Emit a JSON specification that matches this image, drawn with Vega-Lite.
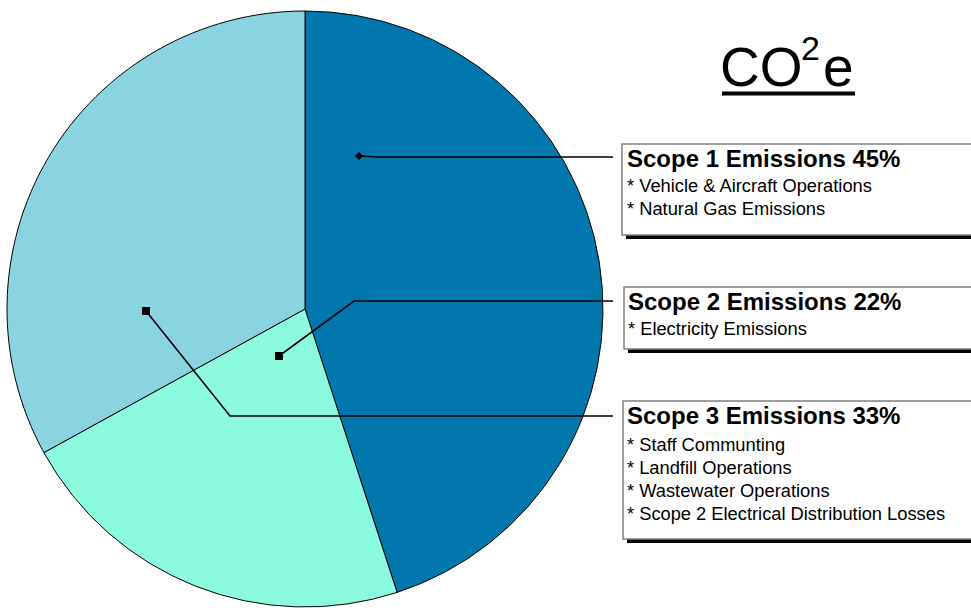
{
  "$schema": "https://vega.github.io/schema/vega-lite/v6.json",
  "width": 971,
  "height": 608,
  "padding": 0,
  "autosize": {"type": "none"},
  "background": "#ffffff",
  "config": {"view": {"stroke": null}, "text": {"font": "Liberation Sans"}},
  "datasets": {
    "slices": [
      {"scope": "Scope 1", "share": 45, "ord": 1},
      {"scope": "Scope 2", "share": 22, "ord": 2},
      {"scope": "Scope 3", "share": 33, "ord": 3}
    ],
    "leaders": [
      {"scope": "Scope 1", "step": 0, "x": 359, "y": 156},
      {"scope": "Scope 1", "step": 1, "x": 378, "y": 157},
      {"scope": "Scope 1", "step": 2, "x": 613, "y": 157},
      {"scope": "Scope 2", "step": 0, "x": 279, "y": 356},
      {"scope": "Scope 2", "step": 1, "x": 354, "y": 301},
      {"scope": "Scope 2", "step": 2, "x": 613, "y": 301},
      {"scope": "Scope 3", "step": 0, "x": 146, "y": 311},
      {"scope": "Scope 3", "step": 1, "x": 230, "y": 416},
      {"scope": "Scope 3", "step": 2, "x": 613, "y": 416}
    ],
    "boxes": [
      {"scope": "Scope 1", "left": 622, "right": 990, "top": 144, "bottom": 235},
      {"scope": "Scope 2", "left": 624, "right": 990, "top": 287, "bottom": 349},
      {"scope": "Scope 3", "left": 623, "right": 990, "top": 401, "bottom": 539}
    ],
    "notes": [
      {"scope": "Scope 1", "kind": "heading", "text": "Scope 1 Emissions 45%", "x": 627, "y": 167},
      {"scope": "Scope 1", "kind": "item", "text": "* Vehicle & Aircraft Operations", "x": 627, "y": 192},
      {"scope": "Scope 1", "kind": "item", "text": "* Natural Gas Emissions", "x": 627, "y": 215},
      {"scope": "Scope 2", "kind": "heading", "text": "Scope 2 Emissions 22%", "x": 628, "y": 310},
      {"scope": "Scope 2", "kind": "item", "text": "* Electricity Emissions", "x": 628, "y": 335},
      {"scope": "Scope 3", "kind": "heading", "text": "Scope 3 Emissions 33%", "x": 627, "y": 424},
      {"scope": "Scope 3", "kind": "item", "text": "* Staff Communting", "x": 627, "y": 451},
      {"scope": "Scope 3", "kind": "item", "text": "* Landfill Operations", "x": 627, "y": 474},
      {"scope": "Scope 3", "kind": "item", "text": "* Wastewater Operations", "x": 627, "y": 497},
      {"scope": "Scope 3", "kind": "item", "text": "* Scope 2 Electrical Distribution Losses", "x": 627, "y": 520}
    ],
    "title": [
      {"part": "CO", "kind": "base", "x": 720, "y": 86},
      {"part": "2", "kind": "sup", "x": 801, "y": 60},
      {"part": "e", "kind": "base", "x": 823, "y": 86}
    ],
    "underline": [
      {"x": 722, "x2": 855, "y": 93.5}
    ]
  },
  "layer": [
    {
      "data": {"name": "slices"},
      "mark": {"type": "arc", "outerRadius": 298, "stroke": "#000000", "strokeWidth": 1},
      "encoding": {
        "x": {"datum": 305, "type": "quantitative", "scale": {"domain": [0, 971], "nice": false, "zero": false}, "axis": null},
        "y": {"datum": 309, "type": "quantitative", "scale": {"domain": [0, 608], "nice": false, "zero": false, "reverse": true}, "axis": null},
        "theta": {"field": "share", "type": "quantitative", "stack": true},
        "order": {"field": "ord", "type": "quantitative"},
        "color": {
          "field": "scope",
          "type": "nominal",
          "scale": {"domain": ["Scope 1", "Scope 2", "Scope 3"], "range": ["#0077AD", "#8CFADF", "#8AD4E2"]},
          "legend": null
        }
      }
    },
    {
      "data": {"name": "boxes"},
      "mark": {"type": "rect", "fill": "#000000", "xOffset": 4, "x2Offset": 4, "yOffset": 4, "y2Offset": 4},
      "encoding": {
        "x": {"field": "left", "type": "quantitative", "scale": {"domain": [0, 971], "nice": false, "zero": false}, "axis": null},
        "x2": {"field": "right"},
        "y": {"field": "top", "type": "quantitative", "scale": {"domain": [0, 608], "nice": false, "zero": false, "reverse": true}, "axis": null},
        "y2": {"field": "bottom"}
      }
    },
    {
      "data": {"name": "boxes"},
      "mark": {"type": "rect", "fill": "#ffffff", "stroke": "#7f7f7f", "strokeWidth": 1.5},
      "encoding": {
        "x": {"field": "left", "type": "quantitative"},
        "x2": {"field": "right"},
        "y": {"field": "top", "type": "quantitative"},
        "y2": {"field": "bottom"}
      }
    },
    {
      "data": {"name": "leaders"},
      "mark": {"type": "line", "color": "#000000", "strokeWidth": 1.6},
      "encoding": {
        "x": {"field": "x", "type": "quantitative"},
        "y": {"field": "y", "type": "quantitative"},
        "detail": {"field": "scope", "type": "nominal"},
        "order": {"field": "step", "type": "quantitative"}
      }
    },
    {
      "data": {"name": "leaders"},
      "transform": [{"filter": "datum.step === 0"}],
      "mark": {"type": "point", "filled": true, "color": "#000000", "opacity": 1, "size": 64},
      "encoding": {
        "x": {"field": "x", "type": "quantitative"},
        "y": {"field": "y", "type": "quantitative"},
        "shape": {
          "field": "scope",
          "type": "nominal",
          "scale": {"domain": ["Scope 1", "Scope 2", "Scope 3"], "range": ["diamond", "square", "square"]},
          "legend": null
        }
      }
    },
    {
      "data": {"name": "notes"},
      "transform": [{"filter": "datum.kind === 'heading'"}],
      "mark": {"type": "text", "align": "left", "baseline": "alphabetic", "fontSize": 24, "fontWeight": "bold", "color": "#000000"},
      "encoding": {
        "x": {"field": "x", "type": "quantitative"},
        "y": {"field": "y", "type": "quantitative"},
        "text": {"field": "text"}
      }
    },
    {
      "data": {"name": "notes"},
      "transform": [{"filter": "datum.kind === 'item'"}],
      "mark": {"type": "text", "align": "left", "baseline": "alphabetic", "fontSize": 18.3, "color": "#000000"},
      "encoding": {
        "x": {"field": "x", "type": "quantitative"},
        "y": {"field": "y", "type": "quantitative"},
        "text": {"field": "text"}
      }
    },
    {
      "data": {"name": "title"},
      "transform": [{"filter": "datum.kind === 'base'"}],
      "mark": {"type": "text", "align": "left", "baseline": "alphabetic", "fontSize": 55, "color": "#000000"},
      "encoding": {
        "x": {"field": "x", "type": "quantitative"},
        "y": {"field": "y", "type": "quantitative"},
        "text": {"field": "part"}
      }
    },
    {
      "data": {"name": "title"},
      "transform": [{"filter": "datum.kind === 'sup'"}],
      "mark": {"type": "text", "align": "left", "baseline": "alphabetic", "fontSize": 34, "color": "#000000"},
      "encoding": {
        "x": {"field": "x", "type": "quantitative"},
        "y": {"field": "y", "type": "quantitative"},
        "text": {"field": "part"}
      }
    },
    {
      "data": {"name": "underline"},
      "mark": {"type": "rule", "color": "#000000", "strokeWidth": 4},
      "encoding": {
        "x": {"field": "x", "type": "quantitative"},
        "x2": {"field": "x2"},
        "y": {"field": "y", "type": "quantitative"}
      }
    }
  ]
}
